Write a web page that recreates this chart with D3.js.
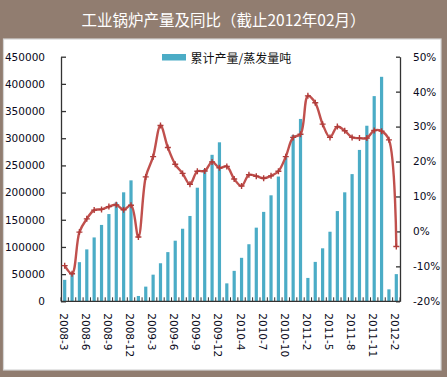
<!DOCTYPE html>
<html><head><meta charset="utf-8">
<script src="https://cdn.jsdelivr.net/npm/d3@7"></script>
<style>
html,body{margin:0;padding:0;background:#fff;}
svg{display:block;}
</style></head>
<body>
<svg id="c" width="447" height="377"></svg>
<script>
const title = "工业锅炉产量及同比（截止2012年02月）";
const legendLabel = "累计产量/蒸发量吨";
const categories = ["2008-3","2008-4","2008-5","2008-6","2008-7","2008-8","2008-9","2008-10","2008-11","2008-12",
"2009-1","2009-2","2009-3","2009-4","2009-5","2009-6","2009-7","2009-8","2009-9","2009-10","2009-11","2009-12",
"2010-2","2010-3","2010-4","2010-5","2010-6","2010-7","2010-8","2010-9","2010-10","2010-11","2010-12",
"2011-2","2011-3","2011-4","2011-5","2011-6","2011-7","2011-8","2011-9","2011-10","2011-11","2011-12",
"2012-1","2012-2"];
const output = [39500,53000,72000,95500,117500,140500,160500,182000,200500,222500,
9800,27000,49000,70000,90500,111500,133500,157000,209000,243000,269500,292500,
33000,56000,80000,105000,135500,164500,195000,229500,265000,306000,335500,
43000,72500,97500,128000,166000,200500,234000,278500,323000,377500,413000,
22000,50000];
const growth = [-9.8,-12.1,-0.2,3.6,6.1,6.3,7.1,7.6,6.2,7.5,
-1.6,15.6,21.4,30.3,24.0,19.2,16.6,13.5,17.2,17.3,19.9,18.2,
18.6,15.0,13.0,16.2,15.8,15.2,15.9,17.2,21.4,26.9,27.8,
38.8,36.8,30.7,26.9,30.0,28.8,26.9,26.7,26.7,28.9,28.7,
26.2,-4.3];
const leftTicks = [0,50000,100000,150000,200000,250000,300000,350000,400000,450000];
const rightTicks = [-20,-10,0,10,20,30,40,50];
const labelEvery = 3;

const svg = d3.select("#c");
const W = 447, H = 377;
const frame = "#917d70";
const barColor = "#4bacc6";
const lineColor = "#c0504d";
const axisColor = "#333333";
const numFont = "'DejaVu Sans', Verdana, sans-serif";
const cjkFont = "'Noto Sans CJK SC', sans-serif";

// frame
svg.append("rect").attr("x",0).attr("y",0).attr("width",W).attr("height",H).attr("fill",frame);
svg.append("rect").attr("x",3.5).attr("y",39).attr("width",437.5).attr("height",331)
  .attr("fill","#fff").attr("stroke","#d4d4d4").attr("stroke-width",1.2);
svg.append("text").attr("x",W/2).attr("y",19).attr("text-anchor","middle").attr("dominant-baseline","central")
  .attr("fill","#fff").attr("font-family",cjkFont).attr("font-size",15.5).text(title);

const x0 = 61, x1 = 400, yTop = 56.7, yBot = 301.3;
const x = d3.scaleBand().domain(categories).range([x0,x1]).padding(0);
const yL = d3.scaleLinear().domain([0,450000]).range([yBot,yTop]);
const yR = d3.scaleLinear().domain([-20,50]).range([yBot,yTop]);

// bars
const bw = 3.2;
svg.append("g").selectAll("rect").data(output).join("rect")
  .attr("x",(d,i)=>x(categories[i])+x.bandwidth()/2-bw/2)
  .attr("y",d=>yL(d)).attr("width",bw).attr("height",d=>yBot-yL(d))
  .attr("fill",barColor);

// left axis
const gL = svg.append("g").attr("transform",`translate(${x0},0)`)
  .call(d3.axisLeft(yL).tickValues(leftTicks).tickSizeInner(-5).tickSizeOuter(0).tickPadding(16).tickFormat(d3.format("d")));
gL.select(".domain").attr("stroke",axisColor).attr("stroke-width",1.3);
gL.selectAll(".tick line").attr("stroke",axisColor).attr("stroke-width",1.3);
gL.selectAll("text").attr("font-family",numFont).attr("font-size",10.5).attr("fill","#0a0a20");

// right axis
const gR = svg.append("g").attr("transform",`translate(${x1},0)`)
  .call(d3.axisRight(yR).tickValues(rightTicks).tickSizeInner(-4).tickSizeOuter(0).tickPadding(13).tickFormat(d=>d+"%"));
gR.select(".domain").attr("stroke",axisColor).attr("stroke-width",1.3);
gR.selectAll(".tick line").attr("stroke",axisColor).attr("stroke-width",1.3);
gR.selectAll("text").attr("font-family",numFont).attr("font-size",10.5).attr("fill","#0a0a20");

// bottom axis
const gB = svg.append("g").attr("transform",`translate(0,${yBot})`);
gB.append("line").attr("x1",x0).attr("x2",x1).attr("y1",0).attr("y2",0).attr("stroke",axisColor).attr("stroke-width",1.3);
const bounds = categories.map(c=>x(c)).concat([x1]);
gB.selectAll("line.tk").data(bounds).join("line").attr("class","tk")
  .attr("x1",d=>d).attr("x2",d=>d).attr("y1",0).attr("y2",-4).attr("stroke",axisColor).attr("stroke-width",1);
gB.selectAll("text").data(categories.filter((c,i)=>i%labelEvery===0)).join("text")
  .attr("transform",d=>`translate(${x(d)+x.bandwidth()/2-1},12) rotate(90)`)
  .attr("dominant-baseline","central").attr("text-anchor","start")
  .attr("font-family",numFont).attr("font-size",10.5).attr("fill","#0a0a20").text(d=>d);

// line
const pts = growth.map((g,i)=>[x(categories[i])+x.bandwidth()/2, yR(g)]);
svg.append("path").attr("d",d3.line().curve(d3.curveCatmullRom.alpha(0.5))(pts))
  .attr("fill","none").attr("stroke",lineColor).attr("stroke-width",2.4);
svg.append("g").selectAll("path").data(pts).join("path")
  .attr("d",d=>`M${d[0]-3},${d[1]}H${d[0]+3}M${d[0]},${d[1]-3}V${d[1]+3}`)
  .attr("stroke","#b03c3a").attr("stroke-width",1.4);

// legend
svg.append("rect").attr("x",162).attr("y",54).attr("width",24).attr("height",6.5).attr("fill",barColor);
svg.append("text").attr("x",190.5).attr("y",57.5).attr("dominant-baseline","central")
  .attr("font-family",cjkFont).attr("font-size",12).attr("fill","#111").text(legendLabel);
</script>
</body></html>
